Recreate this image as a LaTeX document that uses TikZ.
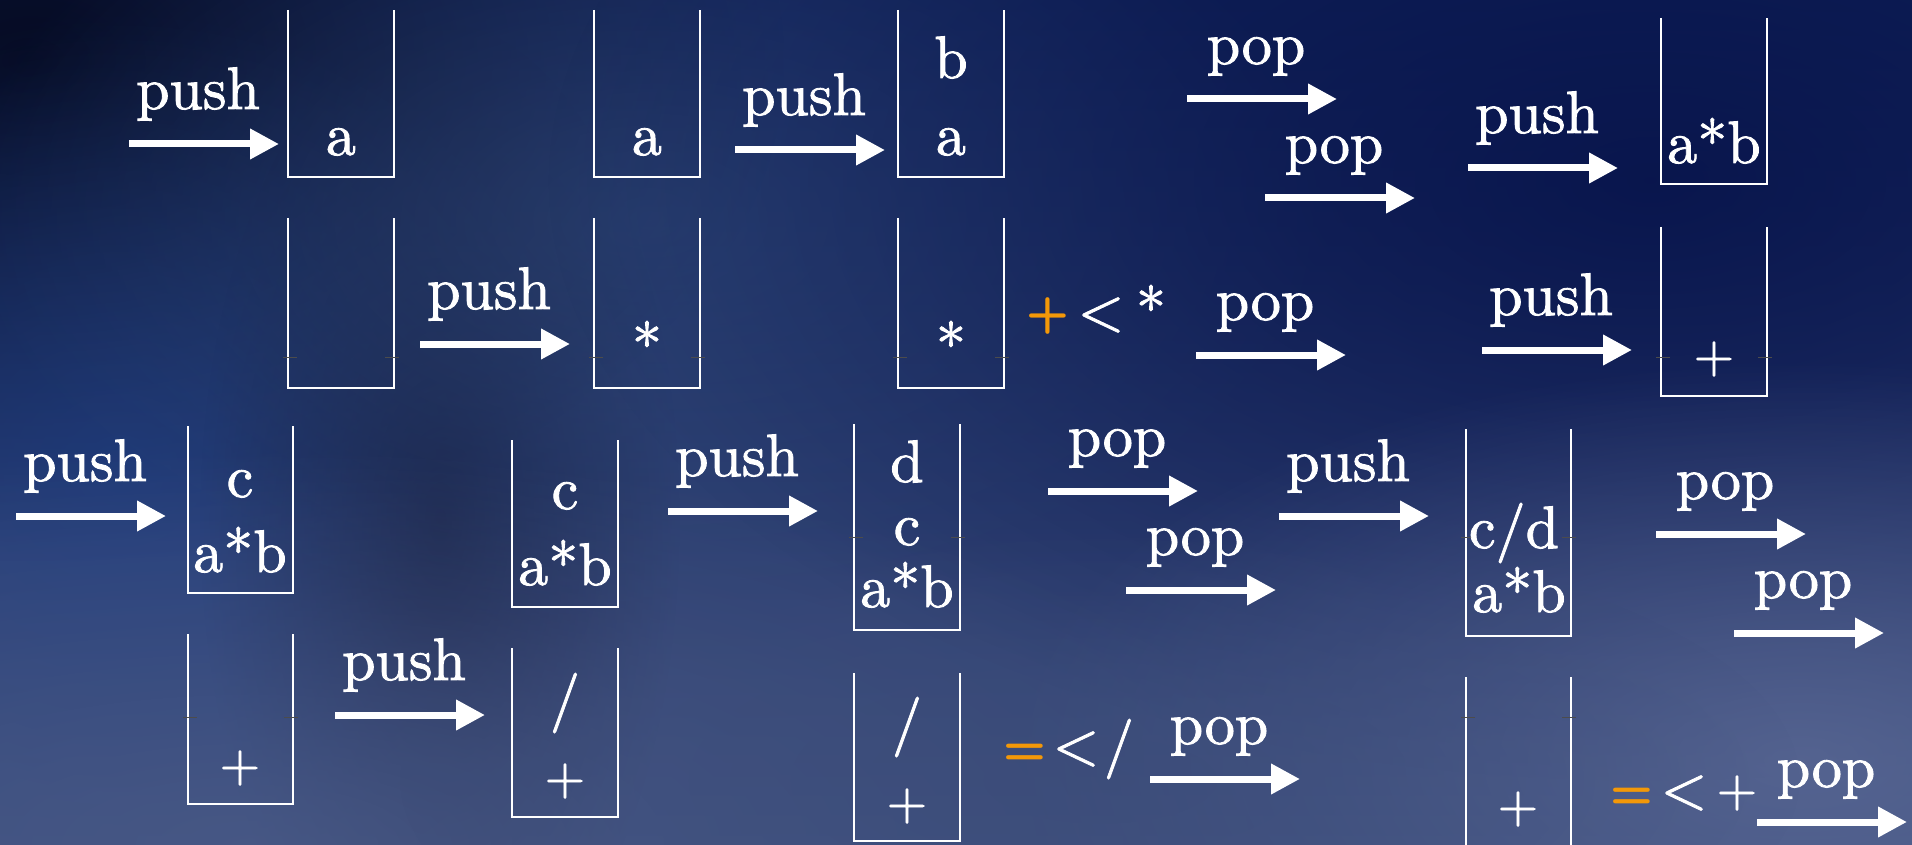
\documentclass[tikz,border=0pt]{standalone}
\usepackage{fontspec}
\newfontfamily\slidefont{lmroman10-regular.otf}[RawFeature={embolden=1.4}]
\usetikzlibrary{arrows.meta,fadings}
\definecolor{accent}{RGB}{243,152,8}
\definecolor{bgtop}{HTML}{12235A}
\definecolor{bgmid}{HTML}{1E3870}
\definecolor{bgbot}{HTML}{3C4E7E}
\definecolor{bA}{RGB}{4,8,28}
\definecolor{bB}{RGB}{30,64,136}
\definecolor{bC}{RGB}{20,26,56}
\definecolor{bD}{RGB}{50,76,124}
\definecolor{bE}{RGB}{6,18,74}
\definecolor{bF}{RGB}{74,90,134}
\definecolor{bG}{RGB}{92,106,150}
\definecolor{bH}{RGB}{60,76,120}
\tikzfading[name=blob, inner color=transparent!0, outer color=transparent!100]
\tikzset{
  wall/.style={draw=white, line width=2.2pt},
  tickl/.style={draw=black!70, line width=0.8pt},
  stackbox/.style={rectangle, draw=none, inner sep=0pt, outer sep=0pt},
  item/.style={anchor=base, text=white, inner sep=0pt, font=\slidefont\fontsize{60}{68}\selectfont},
  plusitem/.style={item, font=\slidefont\fontsize{52}{60}\selectfont},
  cmpsym/.style={anchor=base, text=white, inner sep=0pt, font=\slidefont\fontsize{60}{68}\selectfont},
  cmpacc/.style={anchor=base, text=accent, inner sep=0pt, font=\sffamily\bfseries\fontsize{50}{60}\selectfont},
  op/.style={-{Triangle[length=29pt,width=29pt]}, draw=white, line width=7pt},
  lbl/.style={anchor=base, text=white, inner sep=0pt, font=\slidefont\fontsize{60}{68}\selectfont, xshift=-6pt, yshift=35pt},
  blobfill/.style={path fading=blob, fill=#1},
}
\newcommand\mkstack[5]{%
  \node[stackbox, minimum width={(#4)-(#2)}, minimum height={(#5)-(#3)}] (#1) at ({((#2)+(#4))/2},{((#3)+(#5))/2}) {};
  \draw[wall] (#1.north west) -- (#1.south west) -- (#1.south east) -- (#1.north east);
}
\newcommand\mkopenstack[5]{%
  \node[stackbox, minimum width={(#4)-(#2)}, minimum height={(#5)-(#3)}] (#1) at ({((#2)+(#4))/2},{((#3)+(#5))/2}) {};
  \draw[wall] (#1.north west) -- (#1.south west);
  \draw[wall] (#1.north east) -- (#1.south east);
}
\newcommand\tickat[2]{%
  \draw[tickl] (#1.west |- 0,#2) ++(-5,0) -- ++(14,0);
  \draw[tickl] (#1.east |- 0,#2) ++(-9,0) -- ++(14,0);
}
\newcommand\oparrow[6]{%
  \coordinate (#1s) at (#2,#3);
  \coordinate (#1e) at (#4,#3);
  \draw[op] (#1s) -- node[lbl] (#1l) {#5} (#1e);
}
\begin{document}
\begin{tikzpicture}[x=1pt,y=-1pt]
\useasboundingbox (0,0) rectangle (1912,845);
% background
\fill[top color=bgtop, middle color=bgmid, bottom color=bgbot] (0,0) rectangle (1912,845);
\fill[blobfill=bA, opacity=0.9] (30,60) ellipse [x radius=760pt, y radius=500pt];
\fill[blobfill=bB, opacity=0.6] (120,470) ellipse [x radius=500pt, y radius=460pt];
\fill[blobfill=bC, opacity=0.7] (440,520) ellipse [x radius=240pt, y radius=500pt];
\fill[blobfill=bD, opacity=0.6] (650,220) ellipse [x radius=700pt, y radius=420pt];
\fill[blobfill=bE, opacity=0.85] (1650,180) ellipse [x radius=1100pt, y radius=600pt];
\fill[blobfill=bF, opacity=0.8] (250,845) ellipse [x radius=1100pt, y radius=400pt];
\fill[blobfill=bG, opacity=0.8] (1800,760) ellipse [x radius=800pt, y radius=400pt];
\fill[blobfill=bH, opacity=0.6] (1100,780) ellipse [x radius=700pt, y radius=260pt];

% stacks
\mkstack{s1}{288}{10}{394}{177}
\mkstack{s2}{594}{10}{700}{177}
\mkstack{s3}{898}{10}{1004}{177}
\mkstack{s4}{1661}{18}{1767}{184}
\mkstack{s5}{288}{218}{394}{388}
\mkstack{s6}{594}{218}{700}{388}
\mkstack{s7}{898}{218}{1004}{388}
\mkstack{s8}{1661}{227}{1767}{396}
\mkstack{s9}{188}{426}{293}{593}
\mkstack{s10}{512}{440}{618}{607}
\mkstack{s11}{854}{424}{960}{630}
\mkstack{s12}{1466}{429}{1571}{636}
\mkstack{s13}{188}{634}{293}{804}
\mkstack{s14}{512}{648}{618}{817}
\mkstack{s15}{854}{673}{960}{841}
\mkopenstack{s16}{1466}{677}{1571}{845}

\tickat{s5}{357}
\tickat{s6}{357}
\tickat{s7}{357}
\tickat{s8}{357}
\tickat{s11}{537}
\tickat{s12}{537}
\tickat{s13}{717}
\tickat{s16}{717}

% stack contents
\node[item] (s1a) at (341,155) {a};
\node[item] (s2a) at (647,155) {a};
\node[item] (s3b) at (951,78) {b};
\node[item] (s3a) at (951,155) {a};
\node[item] (s4a) at (1714,163) {a*b};
\node[item] (s6a) at (647,366) {*};
\node[item] (s7a) at (951,366) {*};
\node[plusitem] (s8a) at (1714,372) {+};
\node[item] (s9c) at (240,497) {c};
\node[item] (s9a) at (240,572) {a*b};
\node[item] (s10c) at (565,509) {c};
\node[item] (s10a) at (565,585) {a*b};
\node[item] (s11d) at (907,482) {d};
\node[item] (s11c) at (907,545) {c};
\node[item] (s11a) at (907,607) {a*b};
\node[item] (s12c) at (1514,548) {c/d};
\node[item] (s12a) at (1519,612) {a*b};
\node[plusitem] (s13a) at (240,781) {+};
\node[item] (s14s) at (565,718) {/};
\node[plusitem] (s14a) at (565,794) {+};
\node[item] (s15s) at (907,742) {/};
\node[plusitem] (s15a) at (907,819) {+};
\node[plusitem] (s16a) at (1518,822) {+};

% comparisons
\node[cmpacc] (c1a) at (1048,328) {+};
\node[cmpsym] (c1b) at (1101,330) {<};
\node[cmpsym] (c1c) at (1151,330) {*};
\node[cmpacc] (c2a) at (1025,764) {=};
\node[cmpsym] (c2b) at (1076,764) {<};
\node[cmpsym] (c2c) at (1119,764) {/};
\node[cmpacc] (c3a) at (1632,808) {=};
\node[cmpsym] (c3b) at (1684,808) {<};
\node[plusitem] (c3c) at (1737,806) {+};

% operations
\oparrow{a1}{129}{144}{279}{push}{}
\oparrow{a2}{735}{150}{885}{push}{}
\oparrow{a3}{1187}{99}{1337}{pop}{}
\oparrow{a4}{1265}{198}{1415}{pop}{}
\oparrow{a5}{1468}{168}{1618}{push}{}
\oparrow{a6}{420}{344}{570}{push}{}
\oparrow{a7}{1196}{355}{1346}{pop}{}
\oparrow{a8}{1482}{350}{1632}{push}{}
\oparrow{a9}{16}{516}{166}{push}{}
\oparrow{a10}{668}{511}{818}{push}{}
\oparrow{a11}{1048}{491}{1198}{pop}{}
\oparrow{a12}{1126}{590}{1276}{pop}{}
\oparrow{a13}{1279}{516}{1429}{push}{}
\oparrow{a14}{1656}{534}{1806}{pop}{}
\oparrow{a15}{1734}{633}{1884}{pop}{}
\oparrow{a16}{335}{715}{485}{push}{}
\oparrow{a17}{1150}{779}{1300}{pop}{}
\oparrow{a18}{1757}{822}{1907}{pop}{}
\end{tikzpicture}
\end{document}
